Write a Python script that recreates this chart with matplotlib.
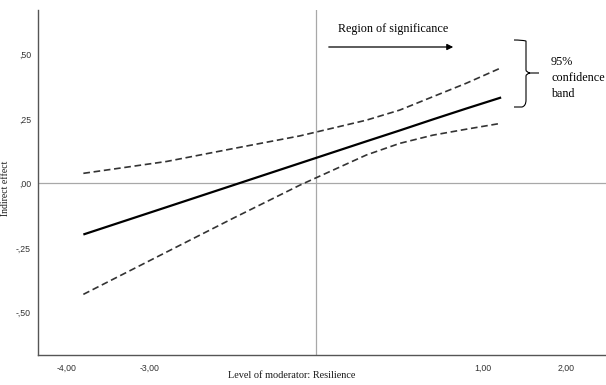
import matplotlib.pyplot as plt
from matplotlib.path import Path
from matplotlib.patches import PathPatch

# moderator values and the conditional indirect effect with its 95% band
moderator = [-3.8, -2.8, -2.0, -1.2, -0.4, 0.0, 0.4, 0.8, 1.22]
effect = [-0.198, -0.092, -0.007, 0.078, 0.163, 0.205, 0.248, 0.290, 0.333]
upper = [0.039, 0.085, 0.135, 0.184, 0.245, 0.284, 0.336, 0.388, 0.448]
lower = [-0.430, -0.266, -0.135, -0.007, 0.110, 0.155, 0.187, 0.210, 0.233]
jn_point = -1.0

xticks = [-4, -3, 1, 2]
yticks = [0.5, 0.25, 0.0, -0.25, -0.5]


def fmt(v):
    s = '%.2f' % v
    s = s.replace('0.', '.') if abs(v) < 1 else s
    return s.replace('.', ',')


W, H = 606, 385
fig = plt.figure(figsize=(W / 100, H / 100), dpi=100)
ax = fig.add_axes([38 / W, 30 / H, 568 / W, 345 / H])

ax.axhline(0, color='#a8a8a8', lw=0.9, zorder=1)
ax.axvline(jn_point, color='#a8a8a8', lw=0.9, zorder=1)
ax.plot(moderator, effect, color='black', lw=1.6, solid_capstyle='butt')
ax.plot(moderator, upper, color='#333333', lw=1.2, dashes=(4, 2.2))
ax.plot(moderator, lower, color='#333333', lw=1.2, dashes=(4, 2.2))

ax.set_xlim(-4.345, 2.48)
ax.set_ylim(-0.665, 0.672)
ax.set_xticks(xticks)
ax.set_xticklabels([fmt(v) for v in xticks])
ax.set_yticks(yticks)
ax.set_yticklabels([fmt(v) for v in yticks])
ax.tick_params(length=0, labelsize=6.3, labelcolor='#333333', pad=6,
               labelfontfamily='Liberation Sans')
ax.tick_params(axis='y', pad=5)
for s in ['top', 'right']:
    ax.spines[s].set_visible(False)
for s in ['left', 'bottom']:
    ax.spines[s].set_color('#555555')
    ax.spines[s].set_linewidth(1.0)

serif = 'Liberation Serif'
fs = 8.7
fig.text(292 / W, 1 - 375 / H, 'Level of moderator: Resilience', ha='center',
         va='center', family=serif, fontsize=7.4, color='#1a1a1a')
fig.text(6 / W, 1 - 188 / H, 'Indirect effect', ha='center', va='center',
         rotation=90, family=serif, fontsize=7.0, color='#1a1a1a')


def px(x, y):
    return (x / W, 1 - y / H)


fig.text(*px(338, 29), 'Region of significance', ha='left', va='center',
         family=serif, fontsize=fs)
ax.annotate('', xy=px(456, 47), xytext=px(326, 47), xycoords='figure fraction',
            textcoords='figure fraction',
            arrowprops=dict(arrowstyle='-|>', color='black', lw=0.9,
                            mutation_scale=9))

# curly brace
pts = [(514, 40), (522, 40), (526, 41), (526, 47), (526, 70), (526, 72), (530, 73),
       (539, 73), (530, 73), (526, 74), (526, 76), (526, 100), (526, 106),
       (522, 107), (514, 107)]
codes = [Path.MOVETO, Path.CURVE3, Path.CURVE3, Path.LINETO, Path.LINETO,
         Path.CURVE3, Path.CURVE3, Path.LINETO, Path.MOVETO, Path.CURVE3,
         Path.CURVE3, Path.LINETO, Path.CURVE3, Path.CURVE3, Path.LINETO]
brace = Path([px(x, y) for x, y in pts], codes)
fig.add_artist(PathPatch(brace, fill=False, lw=0.8, color='black',
                         transform=fig.transFigure))

fig.text(*px(551, 78), '95%\nconfidence\nband', ha='left', va='center',
         family=serif, fontsize=fs, linespacing=1.4)

fig.savefig('out.png', dpi=100)
